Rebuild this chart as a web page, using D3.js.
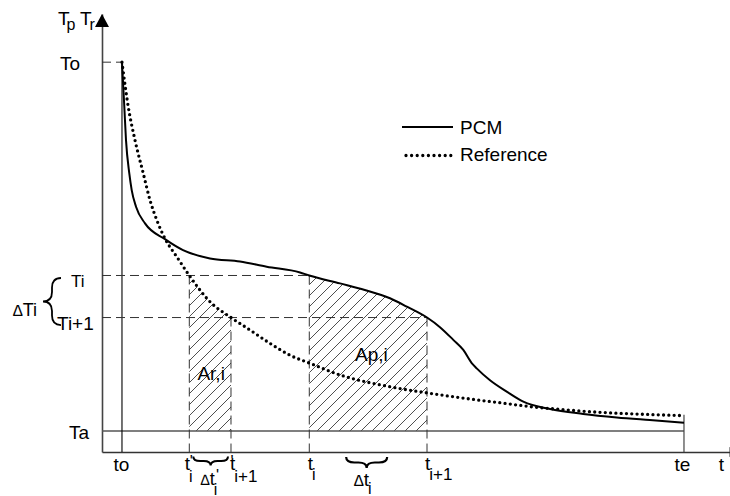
<!DOCTYPE html>
<html><head><meta charset="utf-8">
<script src="https://cdn.jsdelivr.net/npm/d3@7"></script>
<style>body{margin:0;background:#fff}svg{display:block}text{font-family:"Liberation Sans",Arial,sans-serif;fill:#000}</style>
</head><body>
<svg id="c" width="730" height="496"></svg>
<script>
// ---- data (arbitrary time / temperature units) ----
const timeNames  = ["to", "t'i", "t'i+1", "ti", "ti+1", "te"];
const timeValues = [3.33, 14.55, 21.5, 34.55, 54.17, 97.0];
const tempNames  = ["To", "Ti", "Ti+1", "Ta"];
const tempValues = [89.0, 40.3, 30.7, 4.8];

const pcmTime = [3.33, 3.72, 4.0, 4.55, 4.95, 5.67, 7.17, 10.5, 13.5, 18.0, 23.0, 27.45, 33.0, 34.55,
                 39.67, 43.8, 48.0, 50.8, 54.17, 56.33, 58.55, 60.22, 61.62, 62.45, 64.67, 67.45, 70.22,
                 74.67, 80.2, 85.8, 91.3, 97.0];
const pcmTemp = [89.0, 78.8, 71.2, 63.6, 59.8, 56.0, 52.2, 48.6, 46.1, 44.2, 43.5, 42.3, 41.0, 40.3,
                 38.5, 37.0, 35.1, 33.2, 30.7, 28.5, 25.6, 23.3, 20.3, 19.1, 16.4, 13.8, 11.5,
                 9.8, 8.7, 7.9, 7.3, 6.7];
const refTime = [3.33, 4.38, 5.5, 6.88, 8.0, 9.12, 10.55, 12.45, 14.55, 18.0, 21.5, 24.67, 28.0, 31.33,
                 34.67, 39.67, 48.0, 54.17, 61.9, 66.3, 71.8, 77.45, 83.0, 88.5, 97.0];
const refTemp = [89.0, 78.8, 71.2, 63.6, 57.5, 53.0, 48.6, 44.6, 40.3, 34.3, 30.7, 27.85, 24.8, 22.1,
                 20.25, 17.6, 14.9, 13.5, 12.0, 11.25, 10.3, 9.6, 9.06, 8.7, 8.3];
const legendNames = ["PCM", "Reference"];

// ---- setup ----
const tv = Object.fromEntries(timeNames.map((n, i) => [n, timeValues[i]]));
const Tv = Object.fromEntries(tempNames.map((n, i) => [n, tempValues[i]]));
const pcm = pcmTime.map((t, i) => ({t, v: pcmTemp[i]}));
const ref = refTime.map((t, i) => ({t, v: refTemp[i]}));

const svg = d3.select("#c");
const x = d3.scaleLinear().domain([0, 104.67]).range([102, 730]);
const y = d3.scaleLinear().domain([0, 100]).range([452, 14]);

const defs = svg.append("defs");
defs.append("pattern").attr("id", "hatch").attr("patternUnits", "userSpaceOnUse")
  .attr("width", 11).attr("height", 11)
  .append("path").attr("d", "M-1,1 l2,-2 M0,11 l11,-11 M10,12 l2,-2")
  .attr("stroke", "#222").attr("stroke-width", 0.8);

const line = d3.line().x(d => x(d.t)).y(d => y(d.v)).curve(d3.curveMonotoneX);
const area = d3.area().x(d => x(d.t)).y0(y(Tv.Ta)).y1(d => y(d.v)).curve(d3.curveMonotoneX);

function hatchArea(id, data, t1, t2) {
  defs.append("clipPath").attr("id", id).append("rect")
    .attr("x", x(t1)).attr("y", 0).attr("width", x(t2) - x(t1)).attr("height", y(Tv.Ta));
  svg.append("path").attr("d", area(data)).attr("fill", "url(#hatch)").attr("clip-path", `url(#${id})`);
}
hatchArea("clipR", ref, tv["t'i"], tv["t'i+1"]);
hatchArea("clipP", pcm, tv["ti"], tv["ti+1"]);

// ---- axes ----
const xAxis = svg.append("g").attr("transform", `translate(0,${y(0)})`)
  .call(d3.axisBottom(x).tickValues([]).tickSizeOuter(0));
xAxis.select(".domain").attr("stroke", "#333").attr("stroke-width", 1.6);
const yAxis = svg.append("g").attr("transform", `translate(${x(0)},0)`)
  .call(d3.axisLeft(y).tickValues([]).tickSizeOuter(0));
yAxis.select(".domain").attr("stroke", "#444").attr("stroke-width", 1.6);
svg.append("path").attr("d", `M${x(0)},${y(100)} L${x(0) - 7},${y(100) + 13} L${x(0) + 7},${y(100) + 13} Z`).attr("fill", "#000");
svg.append("path").attr("d", `M729.5,${y(0) - 5} L744,${y(0)} L729.5,${y(0) + 5} Z`).attr("fill", "#333");

// Ta line
svg.append("line").attr("x1", x(0)).attr("x2", x(tv.te)).attr("y1", y(Tv.Ta)).attr("y2", y(Tv.Ta))
  .attr("stroke", "#555").attr("stroke-width", 1.4);
// to line
svg.append("line").attr("x1", x(tv.to)).attr("x2", x(tv.to)).attr("y1", y(Tv.To)).attr("y2", y(0))
  .attr("stroke", "#000").attr("stroke-width", 1.1);
// te line
svg.append("line").attr("x1", x(tv.te)).attr("x2", x(tv.te)).attr("y1", y(ref[ref.length - 1].v) - 1).attr("y2", y(0))
  .attr("stroke", "#444").attr("stroke-width", 1.2);

// dashed guides
const dash = "9,5";
function dl(x1, y1, x2, y2) {
  svg.append("line").attr("x1", x1).attr("y1", y1).attr("x2", x2).attr("y2", y2)
    .attr("stroke", "#333").attr("stroke-width", 1).attr("stroke-dasharray", dash);
}
dl(x(0), y(Tv.To), x(tv.to), y(Tv.To));
dl(x(0), y(Tv.Ti), x(tv.ti), y(Tv.Ti));
dl(x(0), y(Tv["Ti+1"]), x(tv["ti+1"]), y(Tv["Ti+1"]));
dl(x(tv["t'i"]), y(Tv.Ti), x(tv["t'i"]), y(0));
dl(x(tv["t'i+1"]), y(Tv["Ti+1"]), x(tv["t'i+1"]), y(0));
dl(x(tv.ti), y(Tv.Ti), x(tv.ti), y(0));
dl(x(tv["ti+1"]), y(Tv["Ti+1"]), x(tv["ti+1"]), y(0));

// curves
svg.append("path").attr("d", line(pcm)).attr("fill", "none").attr("stroke", "#000").attr("stroke-width", 2);
svg.append("path").attr("d", line(ref)).attr("fill", "none").attr("stroke", "#000")
  .attr("stroke-width", 3.3).attr("stroke-linecap", "round").attr("stroke-dasharray", "0,5.3");

// legend
svg.append("line").attr("x1", 402).attr("x2", 453).attr("y1", 127).attr("y2", 127).attr("stroke", "#000").attr("stroke-width", 2);
svg.append("line").attr("x1", 406).attr("x2", 452).attr("y1", 155.5).attr("y2", 155.5).attr("stroke", "#000")
  .attr("stroke-width", 3.3).attr("stroke-linecap", "round").attr("stroke-dasharray", "0,5.6");
svg.append("text").attr("x", 460).attr("y", 134).attr("font-size", 19).text(legendNames[0]);
svg.append("text").attr("x", 460).attr("y", 160.5).attr("font-size", 19).text(legendNames[1]);

// braces
function bracePath(L, h) {
  const q = Math.min(h * 0.9, L * 0.2);
  return `M0,0 Q0,${h / 2} ${q},${h / 2} L${L / 2 - q},${h / 2} Q${L / 2},${h / 2} ${L / 2},${h} ` +
         `Q${L / 2},${h / 2} ${L / 2 + q},${h / 2} L${L - q},${h / 2} Q${L},${h / 2} ${L},0`;
}
const b1x = x(tv["t'i"]) + 4, b1L = x(tv["t'i+1"]) - x(tv["t'i"]) - 7;
svg.append("path").attr("transform", `translate(${b1x},456.5)`).attr("d", bracePath(b1L, 9))
  .attr("fill", "none").attr("stroke", "#000").attr("stroke-width", 2);
const b2c = (x(tv.ti) + x(tv["ti+1"])) / 2 - 1.5;
svg.append("path").attr("transform", `translate(${b2c - 20.5},457)`).attr("d", bracePath(41, 11))
  .attr("fill", "none").attr("stroke", "#000").attr("stroke-width", 2.2);
svg.append("path").attr("transform", `translate(61,${y(Tv.Ti) + 2.5}) rotate(90)`)
  .attr("d", bracePath(y(Tv["Ti+1"]) - y(Tv.Ti) + 5, 18))
  .attr("fill", "none").attr("stroke", "#000").attr("stroke-width", 1.8);

// ---- labels ----
function txt(xp, yp, size, anchor) {
  return svg.append("text").attr("x", xp).attr("y", yp).attr("font-size", size).attr("text-anchor", anchor || "start");
}
function sub(sel, main, s, dy, dx, size) {
  sel.append("tspan").text(main);
  sel.append("tspan").attr("dx", dx).attr("dy", dy).attr("font-size", size).text(s);
  return sel;
}
function prime(xp, yp) { txt(xp, yp, 16).text("'"); }

// y axis title
sub(txt(58, 25, 19), "T", "p", 5, -3, 16);
sub(txt(80, 25, 19), "T", "r", 5, -2, 16);

txt(60, 70, 19).text(tempNames[0]);
txt(71, 287, 17).text(tempNames[1]);
txt(57, 330, 19).text(tempNames[2]);
txt(69, 438.5, 19).text(tempNames[3]);
const dT = txt(13, 315.5, 18);
dT.append("tspan").attr("font-size", 16).attr("font-style", "italic").text("\u2206");
dT.append("tspan").attr("dx", 0).text("Ti");

// time labels
txt(x(tv.to) - 0.5, 471, 19, "middle").text(timeNames[0]);
sub(txt(x(tv["t'i"]) - 4.5, 470, 19), "t", "i", 12, -1, 16);
prime(x(tv["t'i"]) + 0.5, 467);
sub(txt(x(tv["t'i+1"]) - 1, 470, 19), "t", "i+1", 12, -1, 17);
prime(x(tv["t'i+1"]) - 0.5, 467);
sub(txt(x(tv.ti) - 1.5, 470, 19), "t", "i", 10, -1, 16);
sub(txt(x(tv["ti+1"]) - 2, 470, 19), "t", "i+1", 10, -1, 17);
txt(x(tv.te) - 1.5, 471, 19, "middle").text(timeNames[5]);
txt(721.5, 471, 19, "middle").text("t");

// delta t labels
const d1 = txt(200.5, 484.5, 18);
d1.append("tspan").attr("font-size", 15).attr("font-style", "italic").text("\u2206");
d1.append("tspan").text("t");
d1.append("tspan").attr("dx", -1).attr("dy", 10).attr("font-size", 16).text("i");
prime(216, 481);
const d2 = txt(354, 485.5, 19);
d2.append("tspan").attr("font-size", 16).attr("font-style", "italic").text("\u2206");
d2.append("tspan").text("t");
d2.append("tspan").attr("dx", -1).attr("dy", 8).attr("font-size", 16).text("i");

// area labels
txt((x(tv["t'i"]) + x(tv["t'i+1"])) / 2 + 1, 380, 19, "middle").text("Ar,i");
txt(355, 361, 19).text("Ap,i");
</script>
</body></html>
